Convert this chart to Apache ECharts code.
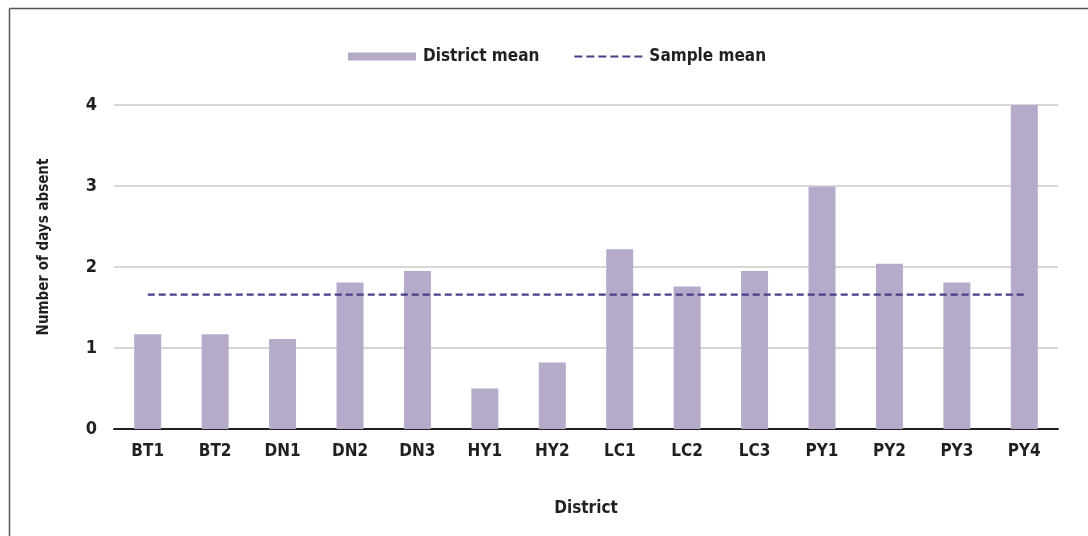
<!DOCTYPE html>
<html><head><meta charset="utf-8">
<script src="https://cdn.jsdelivr.net/npm/echarts@6/dist/echarts.min.js"></script>
<style>html,body{margin:0;padding:0;background:#fff}#c{width:1088px;height:536px}</style>
</head><body><div id="c"></div>
<script>
var categories = ['BT1','BT2','DN1','DN2','DN3','HY1','HY2','LC1','LC2','LC3','PY1','PY2','PY3','PY4'];
var districtMean = [1.17,1.17,1.11,1.81,1.95,0.50,0.82,2.22,1.76,1.95,2.99,2.04,1.81,4.00];
var sampleMean = [1.66,1.66,1.66,1.66,1.66,1.66,1.66,1.66,1.66,1.66,1.66,1.66,1.66,1.66];
var yTicks = [0,1,2,3,4];

var FONT = '"DejaVu Sans Condensed", "Liberation Sans Narrow", "Liberation Sans", Arial, sans-serif';
var TXT = '#231f20';
var chart = echarts.init(document.getElementById('c'), null, {renderer:'canvas'});
chart.setOption({
  animation:false,
  backgroundColor:'#fff',
  textStyle:{fontFamily:FONT},
  graphic:[
    {type:'line', shape:{x1:9.5,y1:8.5,x2:1088,y2:8.5}, style:{stroke:'#555',lineWidth:1.5}},
    {type:'line', shape:{x1:9.5,y1:8.5,x2:9.5,y2:536}, style:{stroke:'#555',lineWidth:1.5}}
  ],
  legend:{
    top:43, left:343, itemGap:35, itemWidth:68, itemHeight:8,
    textStyle:{fontFamily:FONT, fontWeight:'bold', fontSize:17, color:TXT, padding:[0,0,0,2]},
    data:[
      {name:'District mean', icon:'rect'},
      {name:'Sample mean', icon:'path://M0,0H8V2H0Z M12,0H20V2H12Z M24,0H32V2H24Z M36,0H44V2H36Z M48,0H56V2H48Z M60,0H68V2H60Z', itemStyle:{color:'#4b3d88'}}
    ]
  },
  grid:{left:114, right:30, top:105, bottom:107, containLabel:false},
  xAxis:{
    type:'category', data:categories, boundaryGap:true,
    name:'District', nameLocation:'middle', nameGap:71,
    nameTextStyle:{fontFamily:FONT, fontWeight:'bold', fontSize:17, color:TXT},
    axisLine:{show:true, lineStyle:{color:'#231f20', width:2}},
    axisTick:{show:false},
    axisLabel:{fontFamily:FONT, fontWeight:'bold', fontSize:17, color:TXT, margin:14},
    splitLine:{show:false}
  },
  yAxis:{
    type:'value', min:yTicks[0], max:yTicks[yTicks.length-1], interval:1,
    name:'Number of days absent', nameLocation:'middle', nameGap:62, nameRotate:90,
    nameTextStyle:{fontFamily:FONT, fontWeight:'bold', fontSize:15, color:TXT, padding:[0,0,0,40]},
    axisLine:{show:false}, axisTick:{show:false},
    axisLabel:{fontFamily:FONT, fontWeight:'bold', fontSize:18, color:TXT, margin:17, padding:[8,0,0,0]},
    splitLine:{lineStyle:{color:'#c8c8c8', width:1.5}}
  },
  series:[
    {name:'District mean', type:'bar', data:districtMean, barWidth:'40%',
     itemStyle:{color:'#b5aaca'}, z:2},
    {name:'Sample mean', type:'line', data:sampleMean, symbol:'none', z:3,
     lineStyle:{color:'#4b3d88', width:2.2, type:[7,4]}, itemStyle:{color:'#4b3d88'}}
  ]
});
</script></body></html>
